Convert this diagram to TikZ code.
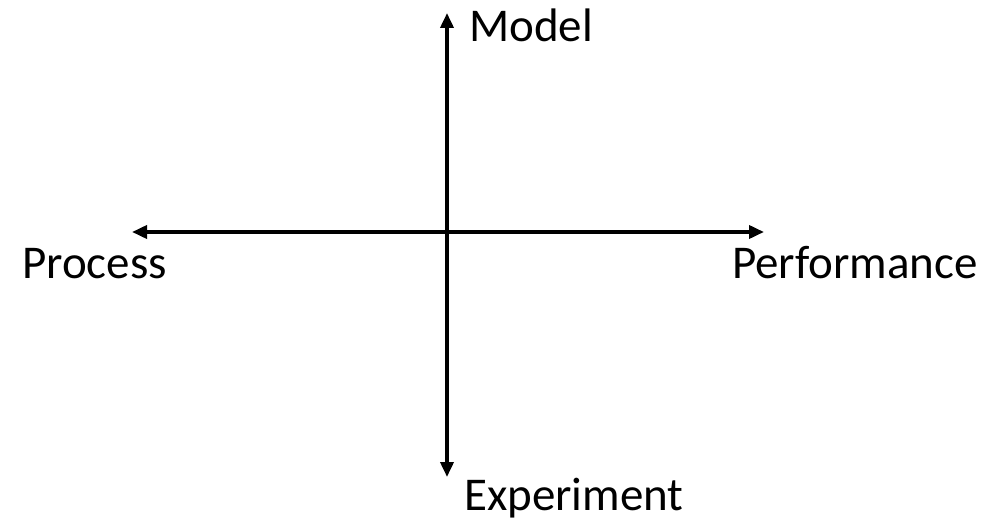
\documentclass[tikz,border=0pt]{standalone}
\usepackage{fontspec}
\setmainfont{Carlito}
\usetikzlibrary{arrows.meta}
\begin{document}
\begin{tikzpicture}[x=1pt,y=-1pt,
  axis/.style={line width=3.6pt,-{Triangle[length=15pt,width=13pt]},black},
  lbl/.style={inner sep=0pt,anchor=base west,font=\fontsize{47}{56}\selectfont}]
\useasboundingbox (0,0) rectangle (1007,521);
\coordinate (c) at (447,232);
\coordinate (top) at (447,13);
\coordinate (bot) at (447,477);
\coordinate (lft) at (132,232);
\coordinate (rgt) at (764,232);
\draw[axis] (c) -- (top);
\draw[axis] (c) -- (bot);
\draw[axis] (c) -- (lft);
\draw[axis] (c) -- (rgt);
\node[lbl] (model) at (469,42) {Model};
\node[lbl] (process) at (22,279) {Process};
\node[lbl] (perf) at (732,279) {Performance};
\node[lbl] (exp) at (464,510) {Experiment};
\end{tikzpicture}
\end{document}
